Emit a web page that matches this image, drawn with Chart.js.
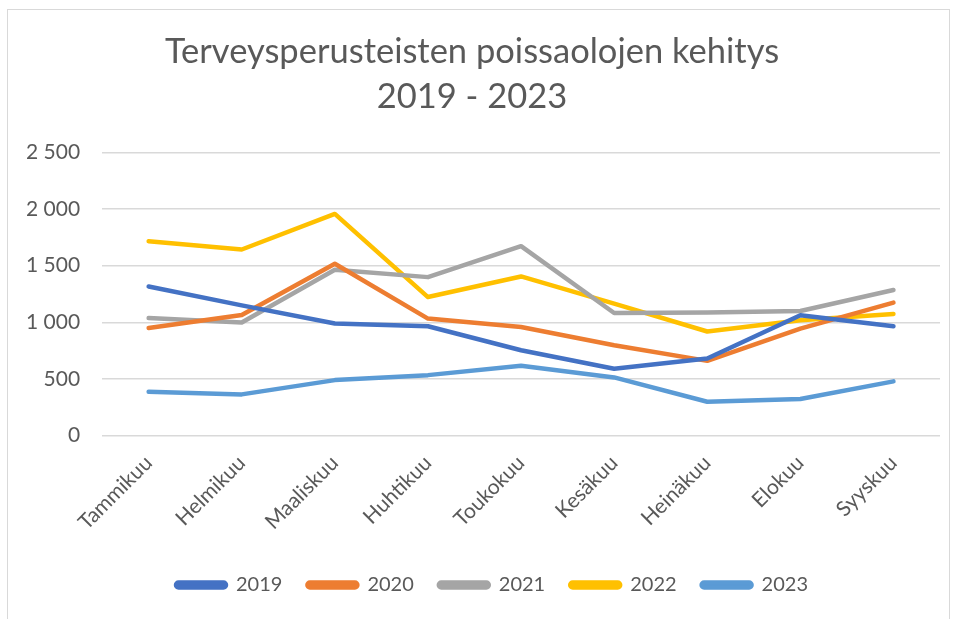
<!DOCTYPE html>
<html>
<head>
<meta charset="utf-8">
<script src="https://cdn.jsdelivr.net/npm/chart.js@4.4.1/dist/chart.umd.min.js"></script>
<style>
	body { margin: 0; background: #fff; }
	#frame { position: absolute; left: 7px; top: 9px; width: 943px; height: 620px; border: 1px solid #d9d9d9; box-sizing: border-box; }
	#wrap { position: absolute; left: 0; top: 0; width: 956px; height: 619px; }
</style>
</head>
<body>
<div id="frame"></div>
<div id="wrap"><canvas id="lineChart"></canvas></div>
<script>
const months = ["Tammikuu", "Helmikuu", "Maaliskuu", "Huhtikuu", "Toukokuu", "Kesäkuu", "Heinäkuu", "Elokuu", "Syyskuu"];

const y2019 = [1317, 1150, 989, 965, 754, 590, 681, 1062, 965];
const y2020 = [950, 1065, 1517, 1033, 959, 798, 660, 945, 1174];
const y2021 = [1038, 998, 1464, 1399, 1672, 1082, 1086, 1100, 1285];
const y2022 = [1716, 1643, 1957, 1223, 1405, 1165, 919, 1018, 1074];
const y2023 = [387, 364, 490, 534, 616, 514, 299, 323, 479];

const yTicks = [0, 500, 1000, 1500, 2000, 2500];

const textColor = "#595959";
const fontName = "Lato";

function serie(label, data, color) {
	return {
		label: label,
		data: data,
		borderColor: color,
		backgroundColor: color,
		borderWidth: 4.5,
		borderCapStyle: "round",
		borderJoinStyle: "round",
		pointRadius: 0,
		tension: 0
	};
}

// legenda hieman oikealle, kuten alkuperäisessä
const legendShift = {
	id: "legendShift",
	afterLayout(chart) {
		if (chart.legend) {
			chart.legend.left += 40;
		}
	}
};

new Chart(document.querySelector("#lineChart"), {
	type: "line",
	data: {
		labels: months,
		datasets: [
			serie("2019", y2019, "#4472c4"),
			serie("2020", y2020, "#ed7d31"),
			serie("2021", y2021, "#a5a5a5"),
			serie("2022", y2022, "#ffc000"),
			serie("2023", y2023, "#5b9bd5")
		]
	},
	plugins: [legendShift],
	options: {
		responsive: true,
		maintainAspectRatio: false,
		animation: false,
		layout: {
			padding: { left: 4, right: 16, top: 25, bottom: 14 }
		},
		plugins: {
			title: {
				display: true,
				text: ["Terveysperusteisten poissaolojen kehitys", "2019 - 2023"],
				color: textColor,
				font: { family: fontName, size: 34.5, weight: "normal", lineHeight: 1.31 },
				padding: { top: 4, bottom: 33 }
			},
			legend: {
				position: "bottom",
				labels: {
					color: textColor,
					font: { family: fontName, size: 20 },
					boxWidth: 50,
					boxHeight: 5,
					useBorderRadius: true,
					borderRadius: 2.5,
					padding: 25
				}
			},
			tooltip: { enabled: false }
		},
		scales: {
			x: {
				offset: true,
				grid: { display: false, drawTicks: false },
				border: { display: false },
				ticks: {
					color: textColor,
					font: { family: fontName, size: 21 },
					maxRotation: 45,
					minRotation: 45,
					padding: 15
				}
			},
			y: {
				min: 0,
				max: 2500,
				afterBuildTicks: function(axis) {
					axis.ticks = yTicks.map(v => ({ value: v }));
				},
				grid: { color: "#d9d9d9", lineWidth: 1.5, drawTicks: false },
				border: { display: false },
				ticks: {
					color: textColor,
					font: { family: fontName, size: 21 },
					padding: 22,
					callback: function(value) {
						return String(value).replace(/\B(?=(\d{3})+(?!\d))/g, " ");
					}
				}
			}
		}
	}
});
</script>
</body>
</html>
